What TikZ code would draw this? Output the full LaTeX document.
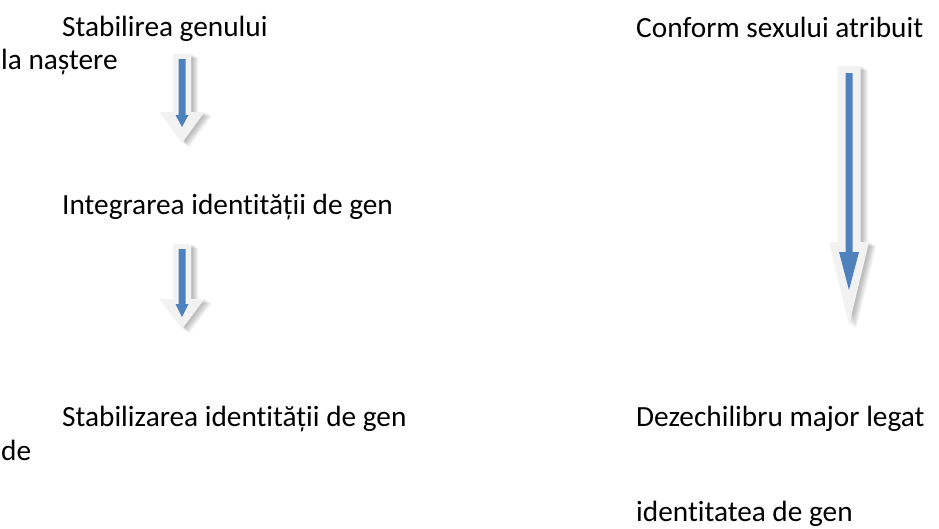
\documentclass[tikz,border=0pt]{standalone}
\usepackage{fontspec}
\setmainfont{Carlito}[Ligatures={NoCommon,NoContextual}, RawFeature={-liga;-clig}]
\definecolor{arrowfill}{HTML}{F2F2F2}
\definecolor{arrowblue}{HTML}{4F81BD}
\tikzset{
  lbl/.style={anchor=base west, inner sep=0pt, font=\fontsize{29.3}{35}\selectfont, text=black},
  % light block arrow with a soft shadow: shaft half-width, head half-width, top, head base, tip
  pics/blockdown/.style n args={5}{code={
    \foreach \s in {1,...,7}
      \fill[black, opacity=0.04, shift={(1+0.9*\s, 0.6*\s)}]
        (-#1,#3) -- (#1,#3) -- (#1,#4) -- (#2,#4) -- (0,#5) -- (-#2,#4) -- (-#1,#4) -- cycle;
    \fill[arrowfill]
      (-#1,#3) -- (#1,#3) -- (#1,#4) -- (#2,#4) -- (0,#5) -- (-#2,#4) -- (-#1,#4) -- cycle;
  }},
  % thin blue arrow laid over the block arrow
  pics/bluedown/.style n args={5}{code={
    \fill[arrowblue]
      (-#1,#3) -- (#1,#3) -- (#1,#4) -- (#2,#4) -- (0,#5) -- (-#2,#4) -- (-#1,#4) -- cycle;
  }}
}
\begin{document}
\begin{tikzpicture}[x=1pt, y=-1pt]
\useasboundingbox[fill=white] (0,0) rectangle (939,528);

% left column
\node[lbl] (birth)   at (62,36)  {Stabilirea genului};
\node[lbl] (birth2)  at (1,69)   {la naștere};
\node[lbl] (integr)  at (62,214) {Integrarea identității de gen};
\node[lbl] (stab)    at (62,426) {Stabilizarea identității de gen};
\node[lbl] (stab2)   at (1,460)  {de};

% right column
\node[lbl] (conform) at (636,37)  {Conform sexului atribuit};
\node[lbl] (dezech)  at (636,426) {Dezechilibru major legat};
\node[lbl] (dezech2) at (636,521) {identitatea de gen};

% arrows
\pic at (182,0) {blockdown={9}{22.5}{54}{112}{143}};
\pic at (182,0) {bluedown={3.5}{6.5}{59}{115}{127}};

\pic at (182,0) {blockdown={9}{22.5}{244}{299}{329}};
\pic at (182,0) {bluedown={3.5}{6.5}{249}{304}{317}};

\pic at (849,0) {blockdown={11.5}{20}{66}{242}{325}};
\pic at (849,0) {bluedown={3.5}{10}{73}{252}{290}};
\end{tikzpicture}
\end{document}
